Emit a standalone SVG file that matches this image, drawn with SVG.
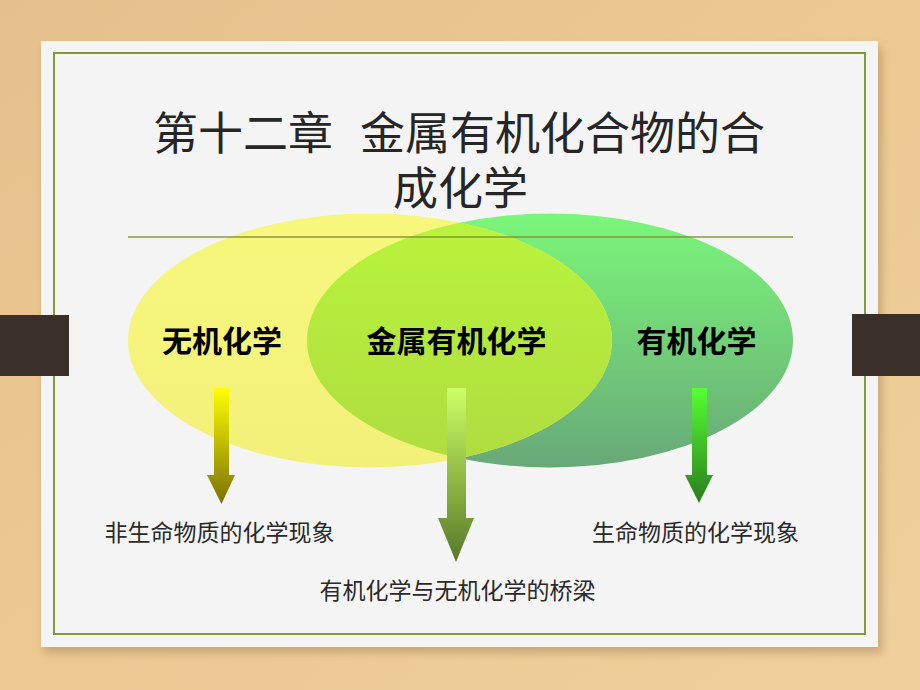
<svg xmlns="http://www.w3.org/2000/svg" width="920" height="690" viewBox="0 0 920 690">
  <defs>
    <linearGradient id="wood" x1="0" y1="0" x2="1" y2="1">
      <stop offset="0" stop-color="#e6c08c"/>
      <stop offset="0.5" stop-color="#ecc892"/>
      <stop offset="1" stop-color="#efcf9c"/>
    </linearGradient>
    <linearGradient id="gGreen" x1="0" y1="0" x2="0" y2="1">
      <stop offset="0" stop-color="#7af77a"/>
      <stop offset="0.5" stop-color="#72d078"/>
      <stop offset="1" stop-color="#68a878"/>
    </linearGradient>
    <linearGradient id="gYellow" x1="0" y1="0" x2="0" y2="1">
      <stop offset="0" stop-color="#f7f77c"/>
      <stop offset="1" stop-color="#f3f07a"/>
    </linearGradient>
    <linearGradient id="gLime" x1="0" y1="0" x2="0" y2="1">
      <stop offset="0" stop-color="#b9f43c"/>
      <stop offset="1" stop-color="#afdc40"/>
    </linearGradient>
    <linearGradient id="aYellow" x1="0" y1="0" x2="0" y2="1">
      <stop offset="0" stop-color="#ffff00"/>
      <stop offset="1" stop-color="#7a7000"/>
    </linearGradient>
    <linearGradient id="aLime" x1="0" y1="0" x2="0" y2="1">
      <stop offset="0" stop-color="#ccff66"/>
      <stop offset="1" stop-color="#587828"/>
    </linearGradient>
    <linearGradient id="aGreen" x1="0" y1="0" x2="0" y2="1">
      <stop offset="0" stop-color="#55ff33"/>
      <stop offset="1" stop-color="#2a7e1c"/>
    </linearGradient>
    <clipPath id="clipGreen">
      <ellipse cx="550" cy="340.5" rx="243" ry="127"/>
    </clipPath>
    <filter id="shadow" x="-5%" y="-5%" width="110%" height="115%">
      <feGaussianBlur stdDeviation="4"/>
    </filter>
  </defs>
  <style>
    .tab { fill: #3b3029; }
    .title { font-family: "Noto Sans CJK SC", "Noto Sans", sans-serif; font-size: 45px; fill: #262626; }
    .label { font-family: "Noto Sans CJK SC", "Noto Sans", sans-serif; font-size: 30px; font-weight: bold; fill: #000; text-anchor: middle; }
    .note { font-family: "Noto Sans CJK SC", "Noto Sans", sans-serif; font-size: 23px; fill: #2a2a2a; text-anchor: middle; }
  </style>

  <!-- background -->
  <rect x="0" y="0" width="920" height="690" fill="url(#wood)"/>
  <rect x="44" y="47" width="838" height="606" fill="#9a7a50" opacity="0.45" filter="url(#shadow)"/>
  <rect x="41" y="41" width="837" height="606" fill="#f4f4f4"/>
  <rect x="54" y="53" width="811" height="581" fill="none" stroke="#85993a" stroke-width="2"/>

  <!-- tabs -->
  <rect class="tab" x="0" y="315" width="69" height="61"/>
  <rect class="tab" x="852" y="314" width="68" height="62"/>

  <!-- title -->
  <g id="title">
    <text class="title" y="150"><tspan x="153">第十二章</tspan><tspan x="360">金属有机化合物的合</tspan></text>
    <text class="title" x="393" y="205">成化学</text>
  </g>

  <!-- venn -->
  <g id="organic">
    <ellipse cx="550" cy="340.5" rx="243" ry="127" fill="url(#gGreen)"/>
    <text class="label" x="696.5" y="352">有机化学</text>
  </g>
  <g id="inorganic">
    <ellipse cx="370" cy="340.5" rx="242" ry="127" fill="url(#gYellow)"/>
    <text class="label" x="222" y="352">无机化学</text>
  </g>
  <g id="organometallic">
    <ellipse cx="370" cy="340.5" rx="242" ry="127" fill="url(#gLime)" clip-path="url(#clipGreen)"/>
    <text class="label" x="456.5" y="352">金属有机化学</text>
  </g>

  <line x1="128" y1="237" x2="793" y2="237" stroke="#7f9030" stroke-width="1.5" opacity="0.9"/>

  <!-- connectors -->
  <g id="connectors">
    <polygon points="214,388 229,388 229,475 235,475 221.5,504 207,475 214,475" fill="url(#aYellow)"/>
    <polygon points="447,388 466,388 466,518 474,518 456,562 438,518 447,518" fill="url(#aLime)"/>
    <polygon points="692,388 707,388 707,475 713,475 699,503 685,475 692,475" fill="url(#aGreen)"/>
  </g>

  <g id="note-inorganic">
    <text class="note" x="219.5" y="541">非生命物质的化学现象</text>
  </g>
  <g id="note-organic">
    <text class="note" x="695.5" y="541">生命物质的化学现象</text>
  </g>
  <g id="note-bridge">
    <text class="note" x="457.5" y="599">有机化学与无机化学的桥梁</text>
  </g>
</svg>
